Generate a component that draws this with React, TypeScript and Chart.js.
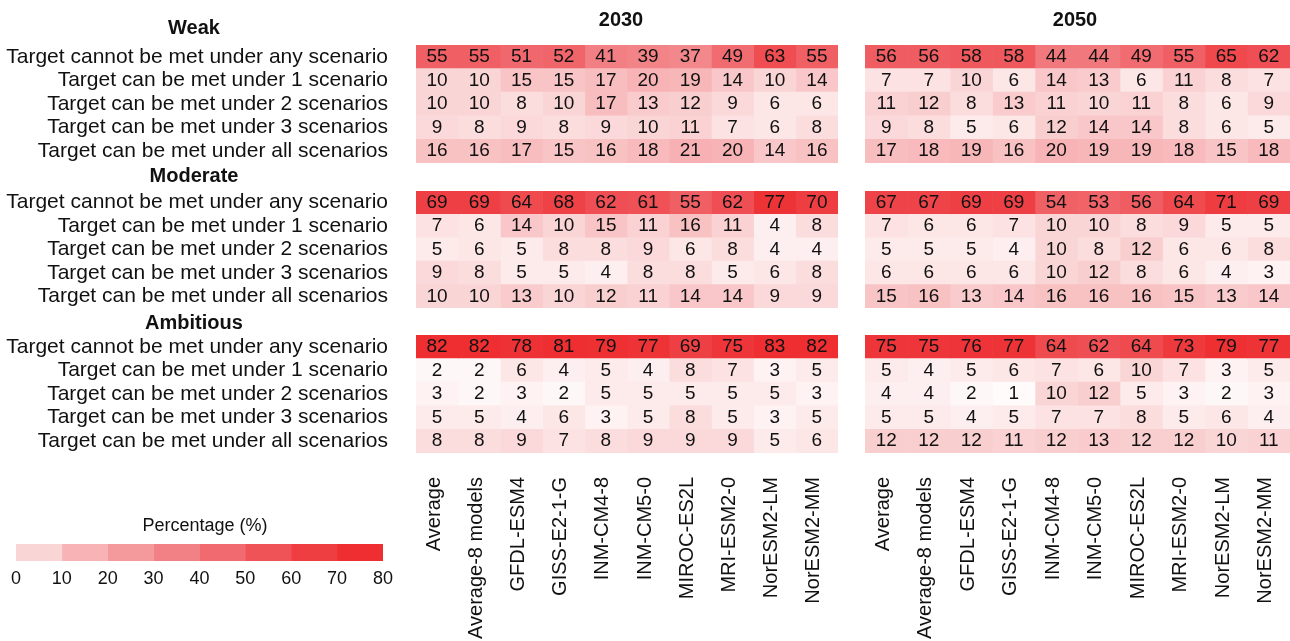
import React, { useEffect, useRef } from "react";
import { Chart, registerables } from "chart.js";

Chart.register(...registerables);

// ---- data -------------------------------------------------------------
const MODELS = [
  "Average",
  "Average-8 models",
  "GFDL-ESM4",
  "GISS-E2-1-G",
  "INM-CM4-8",
  "INM-CM5-0",
  "MIROC-ES2L",
  "MRI-ESM2-0",
  "NorESM2-LM",
  "NorESM2-MM",
];

const OUTCOMES = [
  "Target cannot be met under any scenario",
  "Target can be met under 1 scenario",
  "Target can be met under 2 scenarios",
  "Target can be met under 3 scenarios",
  "Target can be met under all scenarios",
];

const YEARS = ["2030", "2050"];
const TARGETS = ["Weak", "Moderate", "Ambitious"];

// rows follow OUTCOMES, columns follow MODELS (percentages)
const WEAK_2030 = [
  [55, 55, 51, 52, 41, 39, 37, 49, 63, 55],
  [10, 10, 15, 15, 17, 20, 19, 14, 10, 14],
  [10, 10, 8, 10, 17, 13, 12, 9, 6, 6],
  [9, 8, 9, 8, 9, 10, 11, 7, 6, 8],
  [16, 16, 17, 15, 16, 18, 21, 20, 14, 16],
];
const WEAK_2050 = [
  [56, 56, 58, 58, 44, 44, 49, 55, 65, 62],
  [7, 7, 10, 6, 14, 13, 6, 11, 8, 7],
  [11, 12, 8, 13, 11, 10, 11, 8, 6, 9],
  [9, 8, 5, 6, 12, 14, 14, 8, 6, 5],
  [17, 18, 19, 16, 20, 19, 19, 18, 15, 18],
];
const MODERATE_2030 = [
  [69, 69, 64, 68, 62, 61, 55, 62, 77, 70],
  [7, 6, 14, 10, 15, 11, 16, 11, 4, 8],
  [5, 6, 5, 8, 8, 9, 6, 8, 4, 4],
  [9, 8, 5, 5, 4, 8, 8, 5, 6, 8],
  [10, 10, 13, 10, 12, 11, 14, 14, 9, 9],
];
const MODERATE_2050 = [
  [67, 67, 69, 69, 54, 53, 56, 64, 71, 69],
  [7, 6, 6, 7, 10, 10, 8, 9, 5, 5],
  [5, 5, 5, 4, 10, 8, 12, 6, 6, 8],
  [6, 6, 6, 6, 10, 12, 8, 6, 4, 3],
  [15, 16, 13, 14, 16, 16, 16, 15, 13, 14],
];
const AMBITIOUS_2030 = [
  [82, 82, 78, 81, 79, 77, 69, 75, 83, 82],
  [2, 2, 6, 4, 5, 4, 8, 7, 3, 5],
  [3, 2, 3, 2, 5, 5, 5, 5, 5, 3],
  [5, 5, 4, 6, 3, 5, 8, 5, 3, 5],
  [8, 8, 9, 7, 8, 9, 9, 9, 5, 6],
];
const AMBITIOUS_2050 = [
  [75, 75, 76, 77, 64, 62, 64, 73, 79, 77],
  [5, 4, 5, 6, 7, 6, 10, 7, 3, 5],
  [4, 4, 2, 1, 10, 12, 5, 3, 2, 3],
  [5, 5, 4, 5, 7, 7, 8, 5, 6, 4],
  [12, 12, 12, 11, 12, 13, 12, 12, 10, 11],
];

const VALUES: number[][][][] = [
  [WEAK_2030, WEAK_2050],
  [MODERATE_2030, MODERATE_2050],
  [AMBITIOUS_2030, AMBITIOUS_2050],
];

const LEGEND_TICKS = [0, 10, 20, 30, 40, 50, 60, 70, 80];
const LEGEND_TITLE = "Percentage (%)";

// ---- styling ----------------------------------------------------------
const FONT_FAMILY = "'Liberation Sans', Arial, Helvetica, sans-serif";
const TEXT_COLOR = "#111111";

// white -> red ramp, one stop every 10 %
const RAMP = [
  [255, 255, 255],
  [250, 213, 214],
  [247, 179, 181],
  [244, 153, 156],
  [242, 129, 133],
  [240, 106, 111],
  [239, 83, 88],
  [238, 62, 66],
  [238, 46, 49],
];

function heatColor(v: number): string {
  const t = Math.max(0, Math.min(80, v)) / 10;
  const i = Math.min(RAMP.length - 2, Math.floor(t));
  const f = t - i;
  const a = RAMP[i];
  const b = RAMP[i + 1];
  const c = a.map((x, k) => Math.round(x + (b[k] - x) * f));
  return `rgb(${c[0]},${c[1]},${c[2]})`;
}

// panel geometry (page pixels)
const COLS = [
  { left: 0, width: 838, axisWidth: 416, titleX: 621 },
  { left: 865, width: 425, axisWidth: 0, titleX: 210 },
];
const ROWS = [
  { top: 0, height: 163, padTop: 45, headingY: 28 },
  { top: 166, height: 142, padTop: 25, headingY: 10 },
  { top: 310, height: 331, padTop: 25, headingY: 13, axisHeight: 188 },
];
const HEADING_X = 194;
const YEAR_TITLE_Y = 20;

type PanelProps = { t: number; y: number };

function Panel({ t, y }: PanelProps) {
  const ref = useRef<HTMLCanvasElement | null>(null);

  useEffect(() => {
    const canvas = ref.current;
    if (!canvas) return;
    const values = VALUES[t][y];
    const col = COLS[y];
    const row = ROWS[t];
    const showLabels = y === 0;
    const showModels = t === TARGETS.length - 1;

    // one dataset per model column; each row is a floating bar [c, c + 1]
    const datasets = MODELS.map((m, c) => ({
      label: m,
      data: OUTCOMES.map(() => [c, c + 1]),
      backgroundColor: OUTCOMES.map((_, r) => heatColor(values[r][c])),
      borderWidth: 0,
      barPercentage: 1,
      categoryPercentage: 1,
      grouped: false,
    }));

    const cellText = {
      id: "cellText",
      afterDatasetsDraw(chart: any) {
        const ctx = chart.ctx;
        ctx.save();
        ctx.font = `19px ${FONT_FAMILY}`;
        ctx.fillStyle = TEXT_COLOR;
        ctx.textAlign = "center";
        ctx.textBaseline = "middle";
        chart.data.datasets.forEach((_: any, c: number) => {
          const meta = chart.getDatasetMeta(c);
          meta.data.forEach((el: any, r: number) => {
            const p = el.getCenterPoint();
            ctx.fillText(String(values[r][c]), p.x, p.y);
          });
        });
        ctx.restore();
      },
    };

    const headings = {
      id: "headings",
      afterDraw(chart: any) {
        const ctx = chart.ctx;
        ctx.save();
        ctx.fillStyle = TEXT_COLOR;
        ctx.textAlign = "center";
        ctx.textBaseline = "middle";
        if (showLabels) {
          ctx.font = `bold 20px ${FONT_FAMILY}`;
          ctx.fillText(TARGETS[t], HEADING_X, row.headingY);
        }
        if (t === 0) {
          ctx.font = `bold 20px ${FONT_FAMILY}`;
          ctx.fillText(YEARS[y], col.titleX, YEAR_TITLE_Y);
        }
        ctx.restore();
      },
    };

    const chart = new Chart(canvas, {
      type: "bar",
      data: { labels: OUTCOMES, datasets: datasets as any },
      plugins: [cellText, headings],
      options: {
        indexAxis: "y",
        animation: false,
        responsive: false,
        events: [],
        layout: { padding: { top: row.padTop, left: 0, right: 0, bottom: 0 } },
        plugins: { legend: { display: false }, tooltip: { enabled: false }, title: { display: false } },
        scales: {
          x: {
            type: "linear",
            min: 0,
            max: MODELS.length,
            display: showModels,
            grid: { display: false, drawTicks: false },
            border: { display: false },
            afterBuildTicks: (axis: any) => {
              axis.ticks = MODELS.map((_, i) => ({ value: i + 0.5 }));
            },
            afterFit: (axis: any) => {
              if (row.axisHeight) axis.height = row.axisHeight;
              axis.paddingLeft = 0;
              axis.paddingRight = 0;
            },
            ticks: {
              autoSkip: false,
              minRotation: 90,
              maxRotation: 90,
              padding: 24,
              labelOffset: -3,
              color: TEXT_COLOR,
              font: { family: FONT_FAMILY, size: 20 },
              callback: (_v: any, i: number) => MODELS[i],
            },
          },
          y: {
            type: "category",
            display: showLabels,
            grid: { display: false, drawTicks: false },
            border: { display: false },
            afterFit: (axis: any) => {
              axis.width = col.axisWidth;
              axis.paddingTop = 0;
              axis.paddingBottom = 0;
            },
            ticks: {
              autoSkip: false,
              padding: 28,
              color: TEXT_COLOR,
              font: { family: FONT_FAMILY, size: 21 },
            },
          },
        },
      } as any,
    });
    return () => chart.destroy();
  }, [t, y]);

  const col = COLS[y];
  const row = ROWS[t];
  return (
    <canvas
      ref={ref}
      width={col.width}
      height={row.height}
      style={{ position: "absolute", left: col.left, top: row.top, width: col.width, height: row.height }}
    />
  );
}

function ColorBar() {
  const ref = useRef<HTMLCanvasElement | null>(null);

  useEffect(() => {
    const canvas = ref.current;
    if (!canvas) return;

    // each legend band is a floating bar between two consecutive ticks
    const datasets = LEGEND_TICKS.slice(0, -1).map((lo, k) => ({
      label: `${lo}-${LEGEND_TICKS[k + 1]}`,
      data: [[lo, LEGEND_TICKS[k + 1]]],
      backgroundColor: heatColor(LEGEND_TICKS[k + 1]),
      borderWidth: 0,
      barPercentage: 1,
      categoryPercentage: 1,
      grouped: false,
    }));

    const titlePlugin = {
      id: "barTitle",
      afterDraw(chart: any) {
        const ctx = chart.ctx;
        ctx.save();
        ctx.font = `18px ${FONT_FAMILY}`;
        ctx.fillStyle = TEXT_COLOR;
        ctx.textAlign = "center";
        ctx.textBaseline = "middle";
        ctx.fillText(LEGEND_TITLE, 205, 26);
        ctx.restore();
      },
    };

    const chart = new Chart(canvas, {
      type: "bar",
      data: { labels: [""], datasets: datasets as any },
      plugins: [titlePlugin],
      options: {
        indexAxis: "y",
        animation: false,
        responsive: false,
        events: [],
        layout: { padding: { top: 44, left: 16, right: 16, bottom: 0 } },
        plugins: { legend: { display: false }, tooltip: { enabled: false } },
        scales: {
          x: {
            type: "linear",
            min: LEGEND_TICKS[0],
            max: LEGEND_TICKS[LEGEND_TICKS.length - 1],
            grid: { display: false, drawTicks: false },
            border: { display: false },
            afterBuildTicks: (axis: any) => {
              axis.ticks = LEGEND_TICKS.map((v) => ({ value: v }));
            },
            afterFit: (axis: any) => {
              axis.height = 39;
            },
            ticks: {
              autoSkip: false,
              maxRotation: 0,
              padding: 7,
              color: TEXT_COLOR,
              font: { family: FONT_FAMILY, size: 18 },
            },
          },
          y: { display: false },
        },
      } as any,
    });
    return () => chart.destroy();
  }, []);

  return (
    <canvas
      ref={ref}
      width={400}
      height={100}
      style={{ position: "absolute", left: 0, top: 500, width: 400, height: 100 }}
    />
  );
}

export default function App() {
  return (
    <div
      style={{
        position: "absolute",
        left: 0,
        top: 0,
        width: 1290,
        height: 641,
        overflow: "hidden",
        background: "#ffffff",
      }}
    >
      {TARGETS.map((_, t) =>
        YEARS.map((_, y) => <Panel key={`${t}-${y}`} t={t} y={y} />)
      )}
      <ColorBar />
    </div>
  );
}
